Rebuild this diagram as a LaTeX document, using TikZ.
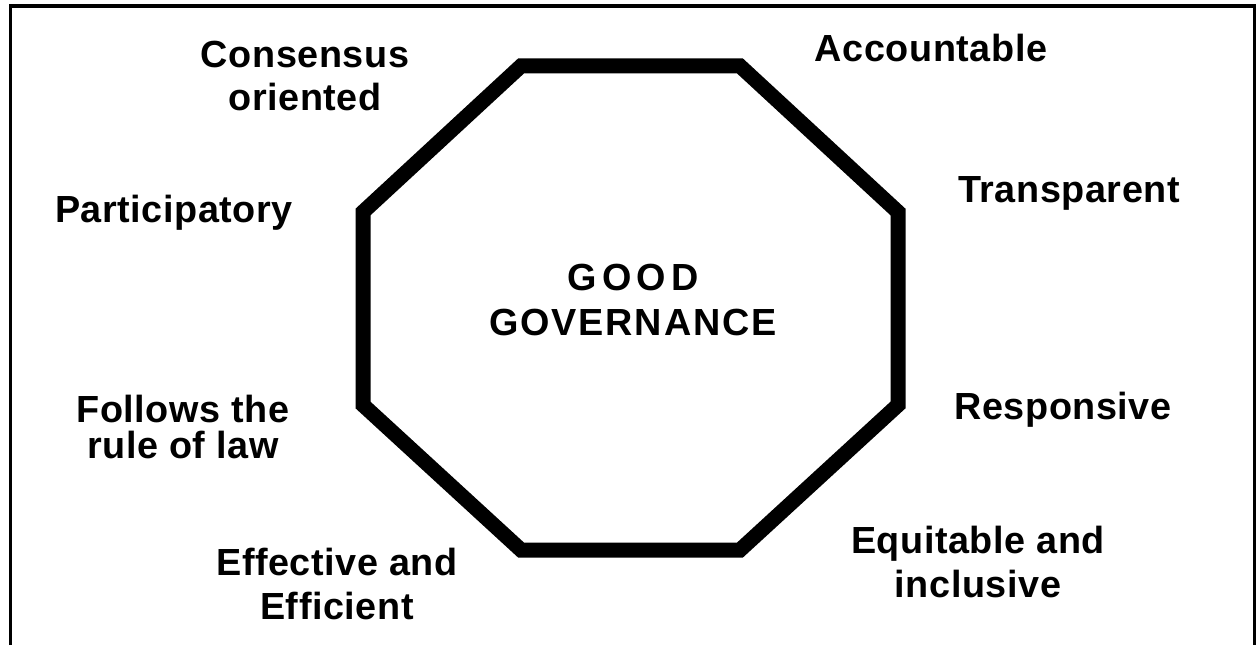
\documentclass[tikz,border=0pt]{standalone}
\usepackage{fontspec}
\setmainfont{Liberation Sans}
\usetikzlibrary{positioning}

\begin{document}
\begin{tikzpicture}[
                x=0.02cm, y=-0.02cm,
                frame/.style={line width=0.08cm},
                rim/.style={line width=0.3cm, line join=miter},
                quality/.style={font=\fontsize{21.5}{24}\selectfont\bfseries\addfontfeature{LetterSpace=1.5}, align=center, inner sep=0pt},
                core/.style={font=\fontsize{21.5}{26}\selectfont\bfseries\addfontfeature{LetterSpace=5}, align=center, inner sep=0pt}
            ]
                \useasboundingbox (0,0) rectangle (1256,645);

                % Open frame
                \draw[frame] (10.5,645) -- (10.5,6.5) -- (1254.5,6.5) -- (1254.5,645);

                % Octagon corners
                \coordinate (n1) at (521,66);
                \coordinate (n2) at (740,66);
                \coordinate (e1) at (898,212);
                \coordinate (e2) at (898,405);
                \coordinate (s1) at (740,550);
                \coordinate (s2) at (521,550);
                \coordinate (w1) at (363,405);
                \coordinate (w2) at (363,212);
                \draw[rim] (n1) -- (n2) -- (e1) -- (e2) -- (s1) -- (s2) -- (w1) -- (w2) -- cycle;

                % Centre
                \node[core] (GG) at (633,300) {{\addfontfeature{LetterSpace=14}GOOD}\\GOVERNANCE};

                % Qualities
                \node[quality] (CO) at (305,76) {Consensus\\oriented};
                \node[quality] (AC) at (931,48) {Accountable};
                \node[quality] (PA) at (174,213) {Participatory};
                \node[quality] (TR) at (1069,193) {Transparent};
                \node[quality, font=\fontsize{21.5}{20.5}\selectfont\bfseries\addfontfeature{LetterSpace=1.5}] (RL) at (183,427) {Follows the\\rule of law};
                \node[quality] (RE) at (1063,410) {Responsive};
                \node[quality, font=\fontsize{21.5}{25}\selectfont\bfseries\addfontfeature{LetterSpace=1.5}] (EE) at (337,584) {Effective and\\Efficient};
                \node[quality, font=\fontsize{21.5}{24.5}\selectfont\bfseries\addfontfeature{LetterSpace=1.5}] (EI) at (978,562) {Equitable and\\inclusive};
            \end{tikzpicture}
\end{document}
